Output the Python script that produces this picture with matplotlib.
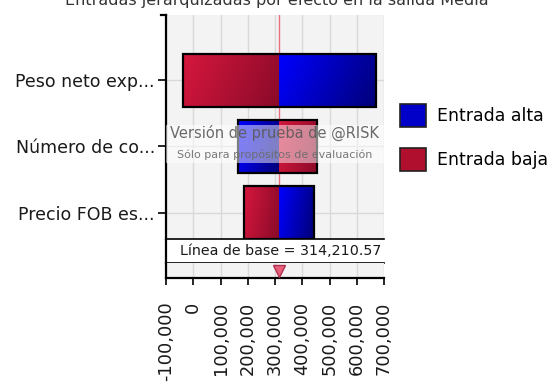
import numpy as np
import matplotlib
matplotlib.use("Agg")
import matplotlib.pyplot as plt
from matplotlib.patches import Rectangle, Patch
from matplotlib.ticker import FuncFormatter

plt.rcParams['font.family'] = ['DejaVu Sans']

# ---- data ----
title = "Entradas jerarquizadas por efecto en la salida Media"
categories = ["Peso neto exp...", "Número de co...", "Precio FOB es..."]
low_input_values = [-36000, 454000, 188000]    # output when input is low (Entrada baja)
high_input_values = [672000, 166000, 442000]   # output when input is high (Entrada alta)
baseline = 314210.57
x_ticks = [-100000, 0, 100000, 200000, 300000, 400000, 500000, 600000, 700000]
legend_labels = ["Entrada alta", "Entrada baja"]

W, H = 553, 383
fig = plt.figure(figsize=(W / 100, H / 100), dpi=100)

def fx(px):
    return px / W

def fy(py):
    return 1 - py / H

x_left, x_right = 166, 384
main_top, main_bot = 15, 239
box_bot = 263
strip_bot = 278

ax = fig.add_axes([fx(x_left), fy(main_bot), fx(x_right - x_left), (main_bot - main_top) / H])
axb = fig.add_axes([fx(x_left), fy(box_bot), fx(x_right - x_left), (box_bot - main_bot) / H], sharex=ax)
axs = fig.add_axes([fx(x_left), fy(strip_bot), fx(x_right - x_left), (strip_bot - box_bot) / H], sharex=ax)

xlim = (x_ticks[0], x_ticks[-1])
bg = '#f3f3f3'
gridc = '#d9d9d9'

# ---- main axes ----
ax.set_facecolor(bg)
for s in ['top', 'right', 'bottom']:
    ax.spines[s].set_visible(False)
ax.spines['left'].set_linewidth(1.6)
ax.set_xticks(x_ticks)
ax.tick_params(axis='x', bottom=False, labelbottom=False)
ypos = np.arange(len(categories))
ax.set_yticks(ypos)
ax.set_yticklabels(categories, fontsize=12.5, color='#1a1a1a')
ax.tick_params(axis='y', length=6, width=1.2, pad=2)
ax.grid(True, color=gridc, lw=1)
ax.set_axisbelow(True)
ax.axvline(baseline, color='#e8707e', lw=1, zorder=1)

red_grad = np.array([[0.84, 0.09, 0.24], [0.54, 0.04, 0.16]])
blue_grad = np.array([[0.0, 0.0, 1.0], [0.0, 0.0, 0.47]])

def grad_img(c, n=64):
    t = np.linspace(0, 1, n)
    tt = 0.8 * t[None, :] + 0.2 * t[:, None]
    img = c[0][None, None, :] * (1 - tt[..., None]) + c[1][None, None, :] * tt[..., None]
    return img

bh = 0.8
for i in range(len(categories)):
    lo, hi = low_input_values[i], high_input_values[i]
    for val, cg in ((lo, red_grad), (hi, blue_grad)):
        a, b = sorted([baseline, val])
        ax.imshow(grad_img(cg), extent=(a, b, i + bh / 2, i - bh / 2),
                  aspect='auto', zorder=2, interpolation='bilinear')
    left = min(lo, hi)
    right = max(lo, hi)
    ax.barh(i, right - left, left=left, height=bh, fill=False,
            edgecolor='black', lw=1.6, zorder=3)

ax.set_xlim(*xlim)
ax.set_ylim(2.40, -0.99)
ax.plot([-0.025, 0], [1, 1], transform=ax.transAxes, color='black', lw=1.6, clip_on=False)

# watermark
band_top, band_bot = 125, 163
ax.add_patch(Rectangle((0, 1 - (band_bot - main_top) / (main_bot - main_top)), 1,
                       (band_bot - band_top) / (main_bot - main_top),
                       transform=ax.transAxes, facecolor='white', alpha=0.5,
                       edgecolor='none', zorder=4))
ax.text(0.5, 1 - (133 - main_top) / (main_bot - main_top), "Versión de prueba de @RISK",
        transform=ax.transAxes, ha='center', va='center', fontsize=10.5,
        color='#5a5a5a', alpha=0.9, zorder=5)
ax.text(0.5, 1 - (155 - main_top) / (main_bot - main_top), "Sólo para propósitos de evaluación",
        transform=ax.transAxes, ha='center', va='center', fontsize=8,
        color='#6a6a6a', alpha=0.9, zorder=5)

# ---- baseline box ----
axb.set_facecolor('white')
axb.spines['right'].set_visible(False)
axb.spines['left'].set_linewidth(1.6)
axb.spines['top'].set_linewidth(1.2)
axb.spines['bottom'].set_linewidth(1.2)
axb.tick_params(axis='both', bottom=False, left=False, labelbottom=False, labelleft=False)
axb.text(0.525, 0.5, "Línea de base = {:,.2f}".format(baseline), transform=axb.transAxes,
         ha='center', va='center', fontsize=10.3, color='#1a1a1a')

# ---- strip with baseline marker & x axis ----
axs.set_facecolor(bg)
axs.spines['top'].set_visible(False)
axs.spines['right'].set_visible(False)
axs.spines['left'].set_linewidth(1.6)
axs.spines['bottom'].set_linewidth(1.6)
axs.set_yticks([])
axs.set_ylim(0, 1)
axs.grid(True, axis='x', color=gridc, lw=1)
axs.set_axisbelow(True)
axs.plot([baseline], [0.5], marker='v', markersize=8, color='#e8607a',
         markeredgecolor='#b03050', clip_on=False, zorder=5)
axs.set_xticks(x_ticks)
axs.xaxis.set_major_formatter(FuncFormatter(lambda v, p: "{:,.0f}".format(v)))
axs.tick_params(axis='x', length=5, width=1.2, pad=12, labelsize=12.8, labelcolor='#1a1a1a',
                labelrotation=90)
axs.set_xlim(*xlim)

# ---- legend ----
handles = [Patch(facecolor='#0000c8', edgecolor='#222222', lw=1.2),
           Patch(facecolor='#b0102e', edgecolor='#222222', lw=1.2)]
fig.legend(handles, legend_labels, loc='upper left', bbox_to_anchor=(fx(400), fy(104)),
           frameon=False, fontsize=12.5, handlelength=1.5, handleheight=1.65,
           handletextpad=0.65, labelspacing=1.2, borderpad=0, borderaxespad=0)

# ---- title (cropped at top as in reference) ----
fig.text(0.5, fy(4.5), title, ha='center', va='baseline', fontsize=11.5, color='#333333')

fig.savefig("out.png", dpi=100)
